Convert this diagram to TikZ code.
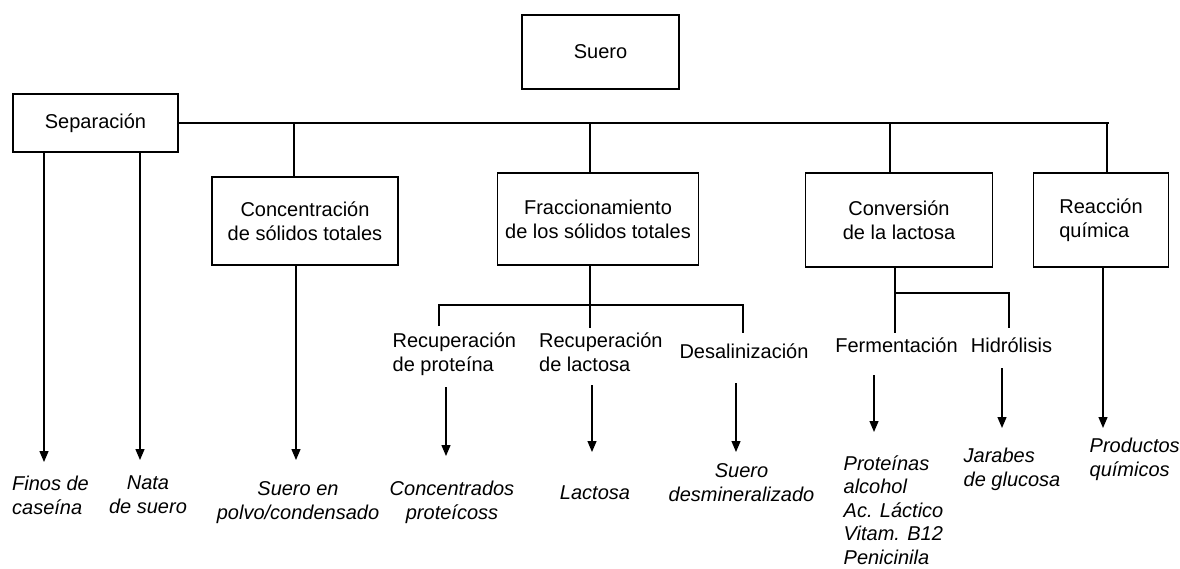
\documentclass[tikz,border=0pt]{standalone}
\usepackage{fontspec}
\setmainfont{Liberation Sans}
\usetikzlibrary{arrows.meta}
\begin{document}
\begin{tikzpicture}[x=1pt,y=-1pt, line width=1.3pt,
  box/.style={draw, inner sep=0pt, align=center, font=\fontsize{20}{24}\selectfont},
  lab/.style={inner sep=0pt, font=\fontsize{20}{24}\selectfont},
  prod/.style={inner sep=0pt, font=\fontsize{20}{24}\selectfont\itshape},
  arr/.style={-{Triangle[length=11pt,width=9pt]}}]
\useasboundingbox (0,0) rectangle (1180,568);
\fill[white] (0,0) rectangle (1180,568);

% boxes
\node[box, minimum width=157pt, minimum height=74pt] (suero) at (600.5,52) {Suero};
\node[box, minimum width=165pt, minimum height=58pt] (sep) at (95.5,123) {Separación};
\node[box, minimum width=186pt, minimum height=88pt] (conc) at (305,221) {Concentración\\de sólidos totales};
\node[box, minimum width=201.5pt, minimum height=92pt] (frac) at (598,219) {Fraccionamiento\\de los sólidos totales};
\node[box, minimum width=186.5pt, minimum height=94pt] (conv) at (899,220) {Conversión\\de la lactosa};
\node[box, minimum width=134.6pt, minimum height=94pt, align=left] (reac) at (1101,220) {Reacción\\química};

% intermediate labels
\node[lab, anchor=north west, align=left] (rp) at (392,332.5) {Recuperación\\de proteína};
\node[lab, anchor=north west, align=left] (rl) at (538.5,332.5) {Recuperación\\de lactosa};
\node[lab, anchor=north] (des) at (744,343.5) {Desalinización};
\node[lab, anchor=north] (fer) at (896.5,337.5) {Fermentación};
\node[lab, anchor=north] (hid) at (1011.5,337.5) {Hidrólisis};

% products
\node[prod, anchor=north west, align=left] (fin) at (11.5,475.5) {Finos de\\caseína};
\node[prod, anchor=north, align=center] (nat) at (148,475.5) {Nata\\de suero};
\node[prod, anchor=north, align=center] (pol) at (298,480.5) {Suero en\\polvo/condensado};
\node[prod, anchor=north, align=center] (cp) at (452,480.5) {Concentrados\\proteícoss};
\node[prod, anchor=north] (lac) at (595,485.5) {Lactosa};
\node[prod, anchor=north, align=center] (dm) at (741.5,462.5) {Suero\\desmineralizado};
\node[prod, anchor=north west, align=left, font=\fontsize{20}{23.5}\selectfont\itshape] (pa) at (843,455) {Proteínas\\alcohol\\Ac. Láctico\\Vitam. B12\\Penicinila};
\node[prod, anchor=north west, align=left] (jg) at (963,447.5) {Jarabes\\de glucosa};
\node[prod, anchor=north west, align=left] (pq) at (1089,437.5) {Productos\\químicos};

% main bus
\coordinate (hend) at (1109,123);
\draw (sep.east) -- (hend);
\coordinate (t1) at (294,123); \draw (t1) -- (t1 |- conc.north);
\coordinate (t2) at (590,123); \draw (t2) -- (t2 |- frac.north);
\coordinate (t3) at (890,123); \draw (t3) -- (t3 |- conv.north);
\coordinate (t4) at (1107,123); \draw (t4) -- (t4 |- reac.north);

% separation arrows
\coordinate (a1) at (44,462); \draw[arr] (a1 |- sep.south) -- (a1);
\coordinate (a2) at (140,460); \draw[arr] (a2 |- sep.south) -- (a2);
\coordinate (a3) at (296,460); \draw[arr] (a3 |- conc.south) -- (a3);

% fraccionamiento branches
\coordinate (fl) at (439,305); \coordinate (fr) at (743,305);
\coordinate (rptop) at (439,326); \coordinate (rltop) at (590,328); \coordinate (destop) at (743,333);
\draw (rltop |- frac.south) -- (rltop);
\draw (rptop) -- (fl) -- (fr) -- (destop);

% conversion branches
\coordinate (c0) at (895,293); \coordinate (c1) at (1009,293);
\coordinate (fertop) at (895,333); \coordinate (hidtop) at (1009,328);
\draw (c0 |- conv.south) -- (fertop);
\draw (c0) -- (c1) -- (hidtop);

% arrows to products
\coordinate (b1s) at (446,387); \coordinate (b1e) at (446,456); \draw[arr] (b1s) -- (b1e);
\coordinate (b2s) at (592,385); \coordinate (b2e) at (592,452); \draw[arr] (b2s) -- (b2e);
\coordinate (b3s) at (736,383); \coordinate (b3e) at (736,452); \draw[arr] (b3s) -- (b3e);
\coordinate (b4s) at (874,375); \coordinate (b4e) at (874,432); \draw[arr] (b4s) -- (b4e);
\coordinate (b5s) at (1002,368); \coordinate (b5e) at (1002,428); \draw[arr] (b5s) -- (b5e);
\coordinate (r1) at (1103,428); \draw[arr] (r1 |- reac.south) -- (r1);
\end{tikzpicture}
\end{document}
